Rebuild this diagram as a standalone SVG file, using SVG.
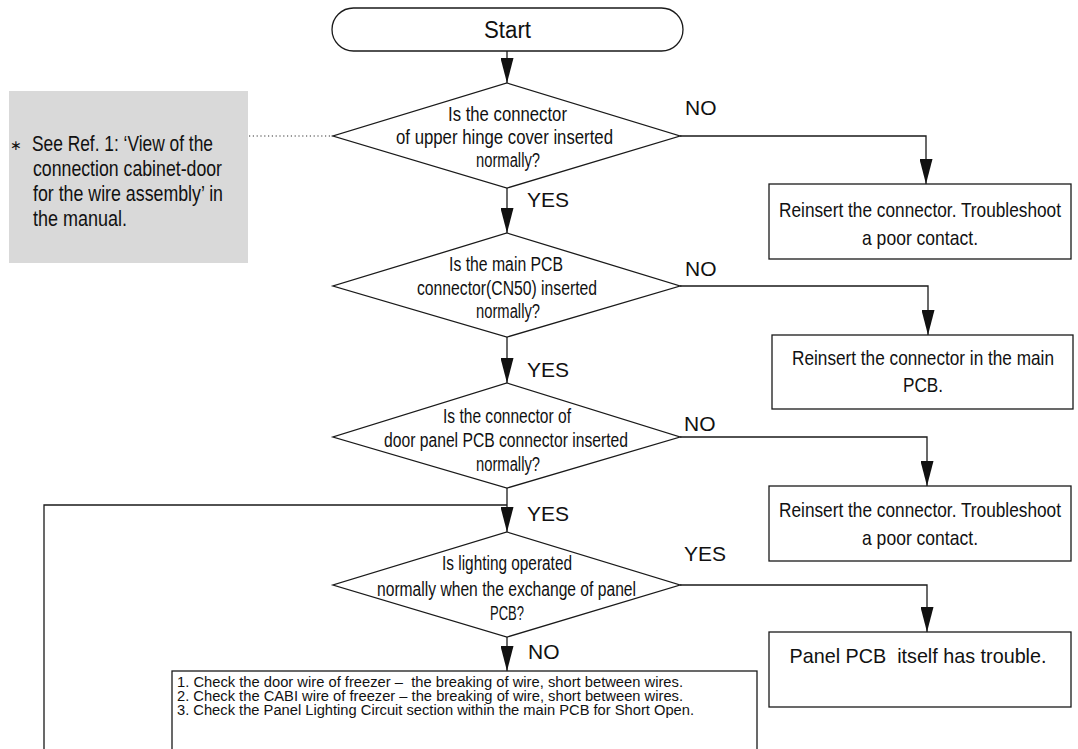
<svg xmlns="http://www.w3.org/2000/svg" width="1078" height="749" viewBox="0 0 1078 749">
<style>
  .shape { fill: #ffffff; stroke: #1a1a1a; stroke-width: 1.3; }
  .conn { fill: none; stroke: #1a1a1a; stroke-width: 1.3; }
  .dots { fill: none; stroke: #333; stroke-width: 1.2; stroke-dasharray: 1.2 2.6; }
  text { font-family: "Liberation Sans", Arial, sans-serif; fill: #111; white-space: pre; }
  .c { text-anchor: middle; }
  .dt { font-size: 20px; }
  .bt { font-size: 21px; }
  .lb { font-size: 21px; }
  .nt { font-size: 22px; }
  .st { font-size: 14px; }
</style>
<defs>
  <marker id="arr" viewBox="0 0 25 13" markerWidth="25" markerHeight="13" refX="25" refY="6.5" orient="auto" markerUnits="userSpaceOnUse">
    <path d="M0,0 L25,6.5 L0,13 z" fill="#111"/>
  </marker>
</defs>

<g id="note">
  <rect x="9" y="91" width="239" height="172" fill="#d9d9d9"/>
  <text x="16" y="150" font-family="DejaVu Sans, sans-serif" font-size="14" class="c">∗</text>
  <text class="nt" x="32" y="151" textLength="181" lengthAdjust="spacingAndGlyphs">See Ref. 1: ‘View of the</text>
  <text class="nt" x="33" y="176" textLength="189" lengthAdjust="spacingAndGlyphs">connection cabinet-door</text>
  <text class="nt" x="33" y="201" textLength="190" lengthAdjust="spacingAndGlyphs">for the wire assembly’ in</text>
  <text class="nt" x="33" y="226" textLength="94" lengthAdjust="spacingAndGlyphs">the manual.</text>
</g>

<g id="connectors">
  <line class="dots" x1="249" y1="136" x2="333" y2="136"/>
  <line class="conn" x1="507" y1="51" x2="507" y2="83" marker-end="url(#arr)"/>
  <line class="conn" x1="507" y1="188" x2="507" y2="233" marker-end="url(#arr)"/>
  <line class="conn" x1="507" y1="337" x2="507" y2="383" marker-end="url(#arr)"/>
  <line class="conn" x1="507" y1="488" x2="507" y2="532" marker-end="url(#arr)"/>
  <line class="conn" x1="507" y1="637" x2="507" y2="671" marker-end="url(#arr)"/>
  <polyline class="conn" points="680,136 926,136 926,184" marker-end="url(#arr)"/>
  <polyline class="conn" points="680,286 928,286 928,335" marker-end="url(#arr)"/>
  <polyline class="conn" points="680,437 927,437 927,486" marker-end="url(#arr)"/>
  <polyline class="conn" points="680,585 927,585 927,632" marker-end="url(#arr)"/>
  <polyline class="conn" points="44,752 44,505 507,505"/>
  <text class="lb" x="685" y="115">NO</text>
  <text class="lb" x="527" y="207">YES</text>
  <text class="lb" x="685" y="276">NO</text>
  <text class="lb" x="527" y="377">YES</text>
  <text class="lb" x="684" y="431">NO</text>
  <text class="lb" x="527" y="521">YES</text>
  <text class="lb" x="684" y="561">YES</text>
  <text class="lb" x="528" y="659">NO</text>
</g>

<g id="start">
  <rect class="shape" x="332" y="8" width="351" height="43" rx="21.5" ry="21.5"/>
  <text class="c" x="507.5" y="38" font-size="23" textLength="47" lengthAdjust="spacingAndGlyphs">Start</text>
</g>

<g id="decision1">
  <polygon class="shape" points="507,83 680,136 507,188 333,136"/>
  <text class="dt c" x="507.5" y="121" textLength="119" lengthAdjust="spacingAndGlyphs">Is the connector</text>
  <text class="dt c" x="504.5" y="144" textLength="217" lengthAdjust="spacingAndGlyphs">of upper hinge cover inserted</text>
  <text class="dt c" x="508" y="167" textLength="64" lengthAdjust="spacingAndGlyphs">normally?</text>
</g>

<g id="action1">
  <rect class="shape" x="769" y="184" width="302" height="75"/>
  <text class="bt c" x="920" y="217" textLength="282" lengthAdjust="spacingAndGlyphs">Reinsert the connector. Troubleshoot</text>
  <text class="bt c" x="920" y="245" textLength="116" lengthAdjust="spacingAndGlyphs">a poor contact.</text>
</g>

<g id="decision2">
  <polygon class="shape" points="507,233 680,286 507,337 333,286"/>
  <text class="dt c" x="506" y="271" textLength="114" lengthAdjust="spacingAndGlyphs">Is the main PCB</text>
  <text class="dt c" x="507" y="295" textLength="180" lengthAdjust="spacingAndGlyphs">connector(CN50) inserted</text>
  <text class="dt c" x="508" y="318" textLength="64" lengthAdjust="spacingAndGlyphs">normally?</text>
</g>

<g id="action2">
  <rect class="shape" x="772" y="335" width="301" height="74"/>
  <text class="bt c" x="923" y="365" textLength="262" lengthAdjust="spacingAndGlyphs">Reinsert the connector in the main</text>
  <text class="bt c" x="923" y="392" textLength="40" lengthAdjust="spacingAndGlyphs">PCB.</text>
</g>

<g id="decision3">
  <polygon class="shape" points="507,383 680,437 507,488 333,437"/>
  <text class="dt c" x="507" y="423" textLength="128" lengthAdjust="spacingAndGlyphs">Is the connector of</text>
  <text class="dt c" x="506" y="447" textLength="244" lengthAdjust="spacingAndGlyphs">door panel PCB connector inserted</text>
  <text class="dt c" x="508" y="471" textLength="64" lengthAdjust="spacingAndGlyphs">normally?</text>
</g>

<g id="action3">
  <rect class="shape" x="769" y="486" width="302" height="75"/>
  <text class="bt c" x="920" y="517" textLength="282" lengthAdjust="spacingAndGlyphs">Reinsert the connector. Troubleshoot</text>
  <text class="bt c" x="920" y="545" textLength="116" lengthAdjust="spacingAndGlyphs">a poor contact.</text>
</g>

<g id="decision4">
  <polygon class="shape" points="507,532 680,585 507,637 333,585"/>
  <text class="dt c" x="507" y="570" textLength="130" lengthAdjust="spacingAndGlyphs">Is lighting operated</text>
  <text class="dt c" x="506.5" y="596" textLength="259" lengthAdjust="spacingAndGlyphs">normally when the exchange of panel</text>
  <text class="dt c" x="507" y="620" textLength="34" lengthAdjust="spacingAndGlyphs">PCB?</text>
</g>

<g id="action4">
  <rect class="shape" x="769" y="632" width="302" height="75"/>
  <text class="bt c" x="918" y="663" textLength="257" lengthAdjust="spacingAndGlyphs">Panel PCB  itself has trouble.</text>
</g>

<g id="checks">
  <rect class="shape" x="172" y="671" width="585" height="100"/>
  <text class="st" x="177" y="687" textLength="506" lengthAdjust="spacingAndGlyphs">1. Check the door wire of freezer –  the breaking of wire, short between wires.</text>
  <text class="st" x="177" y="701" textLength="506" lengthAdjust="spacingAndGlyphs">2. Check the CABI wire of freezer – the breaking of wire, short between wires.</text>
  <text class="st" x="177" y="715" textLength="517" lengthAdjust="spacingAndGlyphs">3. Check the Panel Lighting Circuit section within the main PCB for Short Open.</text>
</g>
</svg>
